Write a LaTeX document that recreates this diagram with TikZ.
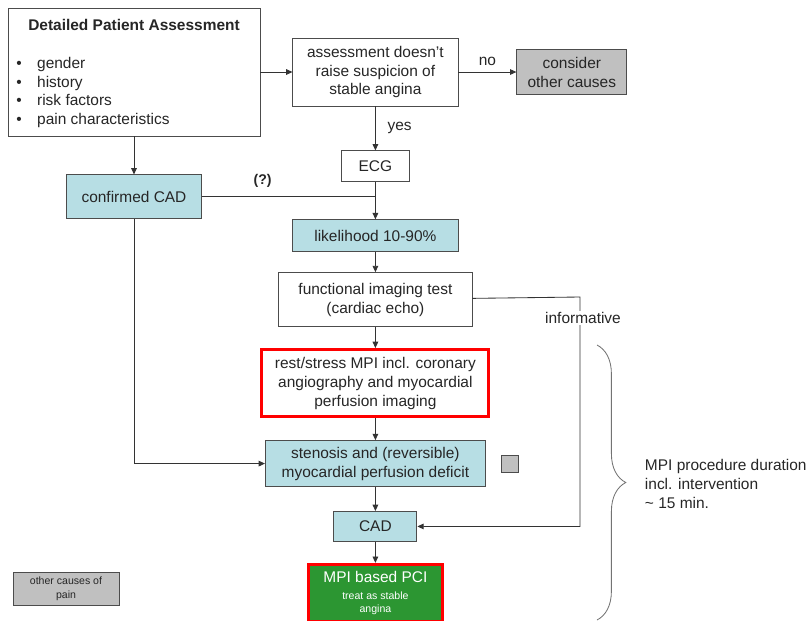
\documentclass[tikz,border=0pt]{standalone}
\usepackage{fontspec}
\setmainfont{Liberation Sans}
\usetikzlibrary{arrows.meta, positioning, decorations.pathreplacing}

\definecolor{cadblue}{RGB}{183,222,228}
\definecolor{boxgray}{RGB}{192,192,192}
\definecolor{pcigreen}{RGB}{44,150,50}

\begin{document}
\begin{tikzpicture}[
    x=0.025cm, y=-0.025cm,
    font=\fontsize{11}{13.5}\selectfont,
    plainbox/.style={rectangle, draw=black!70, line width=0.6pt, fill=white, align=center, inner sep=2pt, text=black!85},
    cadbox/.style={plainbox, fill=cadblue},
    graybox/.style={plainbox, fill=boxgray},
    redbox/.style={plainbox, draw=red, line width=2.2pt},
    arrow/.style={-{Triangle[length=4.5pt, width=4pt]}, line width=0.6pt, black!80},
    tag/.style={text=black!85}
]
    \useasboundingbox (0,0) rectangle (810,620);

    % Patient assessment
    \node[plainbox, minimum width=6.3cm, minimum height=3.2cm] (detail) at (134,72) {};
    \node[tag, font=\fontsize{11}{13.5}\selectfont\bfseries] at (134,25) {Detailed Patient Assessment};
    \node[tag, anchor=west, align=left, inner sep=0pt] at (16,92.5)
        {\textbullet\quad gender\\\textbullet\quad history\\\textbullet\quad risk factors\\\textbullet\quad pain characteristics};

    % Decision on suspicion
    \node[plainbox, minimum width=4.125cm, minimum height=1.7cm, right=0.8cm of detail] (assess) {assessment doesn't\\raise suspicion of\\stable angina};
    \node[graybox, minimum width=2.75cm, minimum height=1.125cm, right=1.45cm of assess] (consider) {consider\\other causes};
    \node[plainbox, minimum width=1.7cm, minimum height=0.775cm, below=1.1cm of assess] (ecg) {ECG};
    \node[cadbox, minimum width=3.375cm, minimum height=1.1cm, below=0.95cm of detail] (confirmed) {confirmed CAD};

    % Main column
    \node[cadbox, minimum width=4.125cm, minimum height=0.8cm, below=0.925cm of ecg] (likely) {likelihood 10-90\%};
    \node[plainbox, minimum width=4.825cm, minimum height=1.35cm, below=0.5cm of likely] (func) {functional imaging test\\(cardiac echo)};
    \node[redbox, minimum width=5.675cm, minimum height=1.675cm, below=0.525cm of func] (mpi) {rest/stress MPI incl. coronary\\angiography and myocardial\\perfusion imaging};
    \node[cadbox, minimum width=5.5cm, minimum height=1.15cm, below=0.55cm of mpi] (stenosis) {stenosis and (reversible)\\myocardial perfusion deficit};
    \node[graybox, minimum size=0.425cm, inner sep=0pt, right=0.375cm of stenosis] (marker) {};
    \node[cadbox, minimum width=2.075cm, minimum height=0.75cm, below=0.6cm of stenosis] (cad) {CAD};
    \node[redbox, fill=pcigreen, text=white, minimum width=3.35cm, minimum height=1.425cm, below=0.525cm of cad] (pci)
        {MPI based PCI\\[-1.4pt]{\fontsize{7.5}{9}\selectfont treat as stable}\\[-4.3pt]{\fontsize{7.5}{9}\selectfont angina}};

    % Legend
    \node[graybox, minimum width=2.65cm, minimum height=0.825cm, font=\fontsize{7.5}{10}\selectfont] (pain) at (66,588.5) {other causes of\\pain};

    % Arrows
    \draw[arrow] (detail) -- (assess);
    \draw[arrow] (assess) -- node[tag, above=1pt] {no} (consider);
    \draw[arrow] (assess) -- node[tag, right=5pt] {yes} (ecg);
    \draw[arrow] (detail) -- (confirmed);
    \draw[arrow] (ecg) -- (likely);
    \coordinate (merge) at (ecg |- confirmed);
    \draw[line width=0.6pt, black!80] (confirmed) -- node[tag, above=3pt, pos=0.35, font=\bfseries] {(?)} (merge);
    \draw[arrow] (likely) -- (func);
    \draw[arrow] (func) -- (mpi);
    \draw[arrow] (mpi) -- (stenosis);
    \draw[arrow] (stenosis) -- (cad);
    \draw[arrow] (cad) -- (pci);
    \draw[arrow] (confirmed) |- (stenosis);

    % Informative shortcut to CAD
    \coordinate (turn) at (580,297);
    \draw[arrow] (func) -- (turn) |- (cad);
    \node[tag, fill=white, inner sep=1pt] at (583,318) {informative};

    % Duration brace
    \coordinate (span top) at (597,345);
    \coordinate (span bottom) at (597,620);
    \draw[decorate, decoration={brace, amplitude=0.72cm}, black!55, line width=0.6pt] (span top) -- (span bottom);
    \node[tag, anchor=west, align=left] at (640,484) {MPI procedure duration\\incl. intervention\\\textasciitilde{} 15 min.};
\end{tikzpicture}
\end{document}
